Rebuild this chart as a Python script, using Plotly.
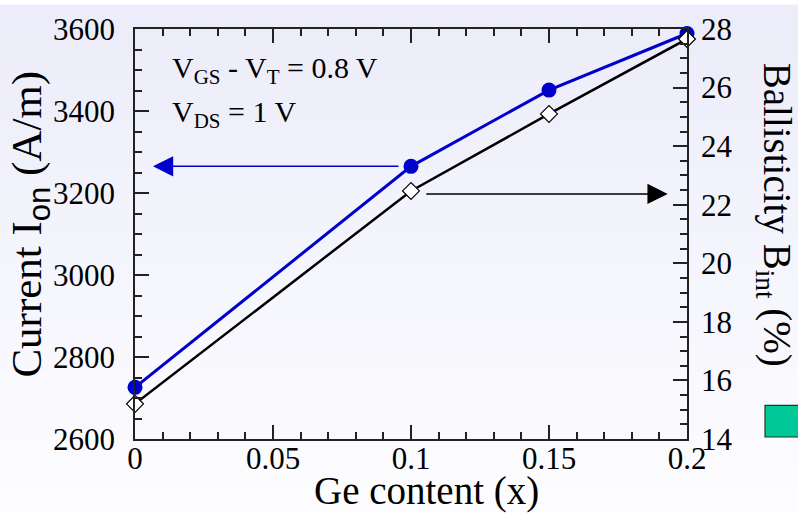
import plotly.graph_objects as go

# ---- data ----
ge_content = [0.0, 0.1, 0.15, 0.2]
current_ion = [2726, 3265, 3451, 3589]          # A/m (left axis)
ballisticity = [15.2, 22.47, 25.1, 27.66]       # % (right axis)

x_ticks = [0, 0.05, 0.1, 0.15, 0.2]
x_ticklabels = ["0", "0.05", "0.1", "0.15", "0.2"]
y1_ticks = [2600, 2800, 3000, 3200, 3400, 3600]
y2_ticks = [14, 16, 18, 20, 22, 24, 26, 28]

# arrows (tail -> head) in data coordinates
blue_arrow = dict(tail_x=0.096, head_x=0.0065, y=3265)
black_arrow = dict(tail_x=0.105, head_x=0.193, y=22.37)

FONT = "Liberation Serif"
BLUE = "#0000cc"

fig = go.Figure()

fig.add_trace(go.Scatter(
    x=ge_content, y=current_ion, mode="lines+markers",
    line=dict(color=BLUE, width=3),
    marker=dict(symbol="circle", size=15, color=BLUE),
    yaxis="y", showlegend=False, cliponaxis=False))

fig.add_trace(go.Scatter(
    x=ge_content, y=ballisticity, mode="lines+markers",
    line=dict(color="black", width=2.5),
    marker=dict(symbol="diamond", size=13, color="white",
                line=dict(color="black", width=1.2)),
    yaxis="y2", showlegend=False, cliponaxis=False))

# background gradient bands
shapes = []
nb = 40
W, H = 798, 513
L, R, T, B = 135, 111, 24, 74
pw, ph = W - L - R, H - T - B
top_c = (236, 236, 250)
bot_c = (253, 253, 255)
for i in range(nb):
    f = i / (nb - 1)
    c = tuple(round(top_c[k] + (bot_c[k] - top_c[k]) * f) for k in range(3))
    shapes.append(dict(
        type="rect", xref="paper", yref="paper", layer="below",
        x0=-L / pw, x1=1 + R / pw,
        y0=(H - B - (H * (i + 1) / nb)) / ph, y1=(H - B - (H * i / nb)) / ph + 0.002,
        fillcolor="rgb(%d,%d,%d)" % c, line=dict(width=0)))

# partially visible green box at bottom right
shapes.append(dict(
    type="rect", xref="paper", yref="paper",
    x0=(765 - L) / pw, x1=(802 - L) / pw,
    y0=(H - B - 437) / ph + 0, y1=(H - B - 405) / ph,
    fillcolor="#00c896", line=dict(color="#203828", width=1.2)))

annotations = [
    dict(x=blue_arrow["head_x"], y=blue_arrow["y"], ax=blue_arrow["tail_x"], ay=blue_arrow["y"],
         xref="x", yref="y", axref="x", ayref="y", text="", showarrow=True,
         arrowhead=2, arrowsize=2.7, arrowwidth=1.5, arrowcolor=BLUE, standoff=0),
    dict(x=black_arrow["head_x"], y=black_arrow["y"], ax=black_arrow["tail_x"], ay=black_arrow["y"],
         xref="x", yref="y2", axref="x", ayref="y2", text="", showarrow=True,
         arrowhead=2, arrowsize=2.7, arrowwidth=1.5, arrowcolor="black", standoff=0),
    dict(x=(170 - L) / pw, y=(H - B - 66) / ph, xref="paper", yref="paper",
         xanchor="left", yanchor="middle", showarrow=False,
         text="V<sub>GS</sub> - V<sub>T</sub> = 0.8 V", font=dict(family=FONT, size=30, color="black")),
    dict(x=(170 - L) / pw, y=(H - B - 110) / ph, xref="paper", yref="paper",
         xanchor="left", yanchor="middle", showarrow=False,
         text="V<sub>DS</sub> = 1 V", font=dict(family=FONT, size=30, color="black")),
    dict(x=(30 - L) / pw, y=(H - B - 222) / ph, xref="paper", yref="paper",
         xanchor="center", yanchor="middle", showarrow=False, textangle=-90,
         text="Current I<sub><span style='font-family:Liberation Sans;font-size:31px'>on</span></sub> (A/m)",
         font=dict(family=FONT, size=43, color="black")),
    dict(x=(774 - L) / pw, y=(H - B - 212) / ph, xref="paper", yref="paper",
         xanchor="center", yanchor="middle", showarrow=False, textangle=90,
         text="Ballisticity B<sub>int</sub> (%)",
         font=dict(family=FONT, size=39, color="black")),
    dict(x=(426 - L) / pw, y=(H - B - 492) / ph, xref="paper", yref="paper",
         xanchor="center", yanchor="middle", showarrow=False,
         text="Ge content (x)", font=dict(family=FONT, size=39, color="black")),
]

axis_common = dict(
    ticks="inside", ticklen=14, tickwidth=1.5, tickcolor="#222",
    showline=True, linecolor="#222", linewidth=1.5, showgrid=False, zeroline=False,
    tickfont=dict(family=FONT, size=31, color="black"),
)

fig.update_layout(
    width=W, height=H,
    margin=dict(l=L, r=R, t=T, b=B),
    paper_bgcolor="white", plot_bgcolor="rgba(0,0,0,0)",
    shapes=shapes, annotations=annotations,
    xaxis=dict(range=[0, 0.2], tickvals=x_ticks, ticktext=x_ticklabels, mirror="ticks",
               minor=dict(dtick=0.01, ticks="inside", ticklen=7, tickwidth=1.5, tickcolor="#222"),
               ticklabelstandoff=-9, **axis_common),
    yaxis=dict(range=[2600, 3600], tickvals=y1_ticks,
               minor=dict(dtick=50, ticks="inside", ticklen=7, tickwidth=1.5, tickcolor="#222"),
               ticklabelstandoff=12, **axis_common),
    yaxis2=dict(range=[14, 28], tickvals=y2_ticks, overlaying="y", side="right",
                minor=dict(dtick=0.5, ticks="inside", ticklen=7, tickwidth=1.5, tickcolor="#222"),
                ticklabelstandoff=6, **axis_common),
)

fig.write_html("out.html")
